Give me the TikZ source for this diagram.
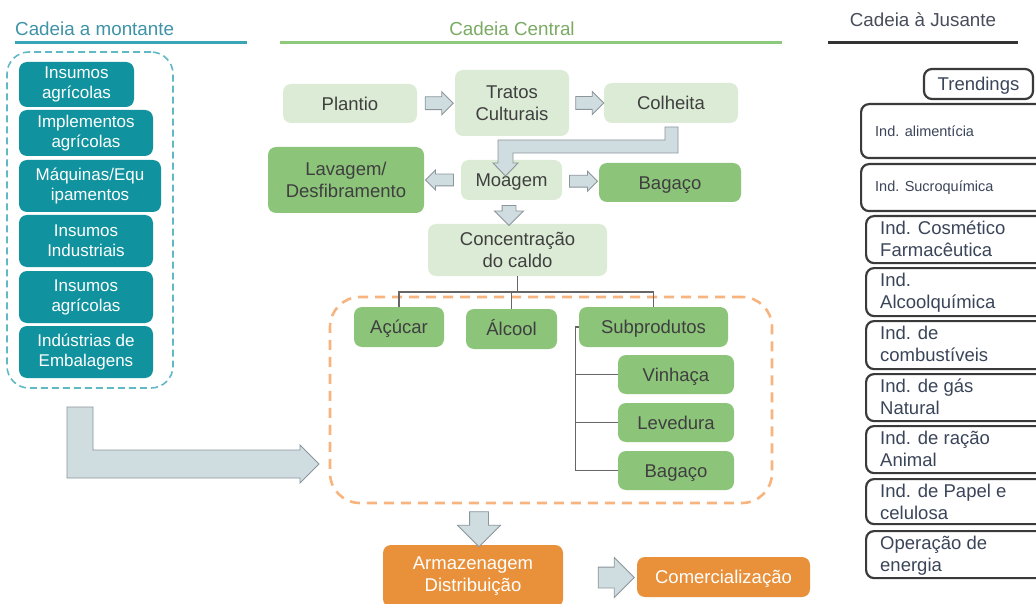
\documentclass[tikz,border=0pt]{standalone}
\usepackage{fontspec}
\setmainfont{Liberation Sans}
\usetikzlibrary{shapes.arrows,calc}
\definecolor{lgreen}{HTML}{DCEBD5}
\definecolor{mgreen}{HTML}{8CC47A}
\definecolor{tealbox}{HTML}{11939F}
\definecolor{tealline}{HTML}{3AA5B4}
\definecolor{tealdash}{HTML}{62B9C6}
\definecolor{tealtxt}{HTML}{3E93A6}
\definecolor{greenline}{HTML}{8DC97B}
\definecolor{greentxt}{HTML}{7BAA63}
\definecolor{hdark}{HTML}{4A4D5A}
\definecolor{orangebox}{HTML}{E8913A}
\definecolor{orangedash}{HTML}{F8B47E}
\definecolor{afill}{HTML}{CFDDE1}
\definecolor{aline}{HTML}{8C969A}
\definecolor{txt}{HTML}{3F3F3F}
\definecolor{rtxt}{HTML}{3B4559}
\definecolor{rline}{HTML}{3A3A3A}
\definecolor{tree}{HTML}{666666}
\newcommand{\fC}{\fontsize{18.5}{21.5}\selectfont}
\newcommand{\fL}{\fontsize{17}{20}\selectfont}
\newcommand{\fS}{\fontsize{14.5}{17}\selectfont}
\newcommand{\fH}{\fontsize{18.8}{21}\selectfont}
\begin{document}
\begin{tikzpicture}[x=1pt,y=-1pt,
  bx/.style={rounded corners=8pt, inner sep=0pt},
  ml/.style={align=center},
  one/.style={text height=13.3pt, text depth=0pt},
  lg/.style={bx, fill=lgreen, text=txt, font=\fC},
  mg/.style={bx, fill=mgreen, text=txt, font=\fC},
  tl/.style={bx, fill=tealbox, text=white, font=\fL, align=center},
  og/.style={bx, fill=orangebox, text=white, font=\fC},
  rb/.style={draw=rline, line width=2.2pt, rounded corners=8pt, fill=white, inner sep=0pt, anchor=north west},
  rt/.style={text=rtxt, font=\fC, align=left, inner sep=0pt, anchor=north west},
  rs/.style={text=rtxt, font=\fS, inner sep=0pt, anchor=west, text height=10.4pt, text depth=0pt},
  barrow/.style={single arrow, draw=aline, fill=afill, line width=0.9pt, inner xsep=0pt, inner ysep=6pt,
     single arrow head extend=5pt, minimum height=28pt},
  bent/.style={draw=aline, fill=afill, line width=0.9pt, line join=miter},
  treeline/.style={draw=tree, line width=1.2pt},
  hdr/.style={font=\fH, inner sep=0pt},
]
\useasboundingbox (0,0) rectangle (1036,604);
\fill[white] (0,0) rectangle (1036,604);
\clip (0,0) rectangle (1036,604);

% headers
\node[hdr, text=tealtxt, anchor=west] (h1) at (15,29) {Cadeia a montante};
\draw[tealline, line width=3pt] (15,43) -- (247,43);
\node[hdr, text=greentxt] (h2) at (512,29) {Cadeia Central};
\draw[greenline, line width=3pt] (280,43) -- (782,43);
\node[hdr, text=hdark] (h3) at (923,20) {Cadeia à Jusante};
\draw[black!80, line width=3pt] (828,43) -- (1018,43);

% upstream
\node[draw=tealdash, dash pattern=on 7pt off 4pt, line width=1.6pt, rounded corners=22pt,
      minimum width=166pt, minimum height=336pt, inner sep=0pt] (upframe) at (90,220) {};
\node[tl, minimum width=115pt, minimum height=45pt] (t1) at (76.5,84.5) {Insumos\\agrícolas};
\node[tl, minimum width=134pt, minimum height=46pt] (t2) at (86,133) {Implementos\\agrícolas};
\node[tl, minimum width=142pt, minimum height=52pt] (t3) at (90,186) {Máquinas/Equ\\ipamentos};
\node[tl, minimum width=134pt, minimum height=52pt] (t4) at (86,241) {Insumos\\Industriais};
\node[tl, minimum width=134pt, minimum height=52pt] (t5) at (86,297) {Insumos\\agrícolas};
\node[tl, minimum width=134pt, minimum height=52pt] (t6) at (86,352) {Indústrias de\\Embalagens};

% big bent arrow
\draw[bent] (67,407) -- (93,407) -- (93,450) -- (300,450) -- (300,445) -- (319,464)
  -- (300,483) -- (300,478) -- (67,478) -- cycle;

% central chain
\node[lg, one, minimum width=134pt, minimum height=39pt] (plantio) at (350,103.5) {Plantio};
\node[lg, ml, minimum width=114pt, minimum height=66pt] (tratos) at (512,103) {Tratos\\Culturais};
\node[lg, one, minimum width=134pt, minimum height=40pt] (colheita) at (671,103) {Colheita};
\node[mg, ml, minimum width=156pt, minimum height=66pt] (lavagem) at (346,180) {Lavagem/\\Desfibramento};
\node[lg, one, minimum width=101pt, minimum height=40pt] (moagem) at (511.5,180) {Moagem};
\node[mg, one, minimum width=142pt, minimum height=39pt] (bag1) at (670,182.5) {Bagaço};
\node[lg, ml, minimum width=179pt, minimum height=52pt] (conc) at (517.5,250) {Concentração\\do caldo};

\node[barrow] (a1) at ($(plantio.east)!0.5!(tratos.west)$) {};
\node[barrow] (a2) at ($(tratos.east)!0.5!(colheita.west)$) {};
\node[barrow, rotate=180, inner ysep=5.5pt, single arrow head extend=4pt] (a3)
  at ($(lavagem.east)!0.5!(moagem.west)$) {};
\node[barrow, inner ysep=5.5pt, single arrow head extend=4pt] (a4)
  at ($(moagem.east)!0.5!(bag1.west)$) {};
\node[barrow, rotate=-90, minimum height=20pt, inner ysep=6.5pt, single arrow head extend=7.5pt] (a5)
  at (509,212) {};

% bent arrow Colheita -> Moagem
\draw[bent] (665,127) -- (678,127) -- (678,153) -- (513,153) -- (513,163) -- (518,163)
  -- (505.5,176) -- (493,163) -- (498,163) -- (498,140) -- (665,140) -- cycle;

% products frame
\node[draw=orangedash, dash pattern=on 10pt off 7pt, line width=2.6pt, rounded corners=30pt,
      minimum width=442pt, minimum height=206pt, inner sep=0pt] (prod) at (551,400) {};
\node[mg, one, minimum width=90pt, minimum height=40pt] (acucar) at (399,327) {Açúcar};
\node[mg, one, minimum width=91pt, minimum height=40pt] (alcool) at (511.5,329) {Álcool};
\node[mg, one, minimum width=149pt, minimum height=40pt] (sub) at (653.5,327) {Subprodutos};
\node[mg, one, minimum width=116pt, minimum height=39pt] (vin) at (676,374.5) {Vinhaça};
\node[mg, one, minimum width=116pt, minimum height=39pt] (lev) at (676,422.5) {Levedura};
\node[mg, one, minimum width=116pt, minimum height=39pt] (bag2) at (676,470.5) {Bagaço};

\coordinate (bus) at (0,292);
\draw[treeline] (conc.south) -- (conc.south |- bus);
\draw[treeline] (acucar.north) -- (acucar.north |- bus) -- (sub.north |- bus) -- (sub.north);
\draw[treeline] (alcool.north) -- (alcool.north |- bus);
\coordinate (sb) at ($(sub.west)+(-3,0)$);
\draw[treeline] (sub.west) -- (sb) |- (bag2.west);
\draw[treeline] (sb) |- (vin.west);
\draw[treeline] (sb) |- (lev.west);

% distribution
\node[og, ml, minimum width=180pt, minimum height=62pt] (arm) at (473,576) {Armazenagem\\Distribuição};
\node[og, one, minimum width=173pt, minimum height=40pt] (com) at (723.5,577) {Comercialização};
\node[barrow, rotate=-90, minimum height=35pt, inner ysep=9pt, single arrow head extend=12pt] (a6)
  at (479,524.5) {};
\node[barrow, minimum height=36pt, inner ysep=10pt, single arrow head extend=9.5pt] (a7)
  at (611,577.5) {};

% downstream
\node[rb, anchor=center, minimum width=109pt, minimum height=30pt, font=\fC, text=rtxt, one] (trend) at (978.5,84) {Trendings};
\node[rb, minimum width=190pt, minimum height=54pt] (r1) at (860,103) {};
\node[rs] (r1t) at (875,131.5) {Ind. alimentícia};
\node[rb, minimum width=190pt, minimum height=47pt] (r2) at (860,163) {};
\node[rs] (r2t) at (875,186.5) {Ind. Sucroquímica};
\node[rb, minimum width=185pt, minimum height=47pt] (r3) at (865,215) {};
\node[rt] (r3t) at (880,221) {Ind. Cosmético\\Farmacêutica};
\node[rb, minimum width=185pt, minimum height=48pt] (r4) at (865,267) {};
\node[rt] (r4t) at (880,273) {Ind.\\Alcoolquímica};
\node[rb, minimum width=185pt, minimum height=48pt] (r5) at (865,320) {};
\node[rt] (r5t) at (880,326) {Ind. de\\combustíveis};
\node[rb, minimum width=185pt, minimum height=47pt] (r6) at (865,373) {};
\node[rt] (r6t) at (880,379) {Ind. de gás\\Natural};
\node[rb, minimum width=185pt, minimum height=47pt] (r7) at (865,425) {};
\node[rt] (r7t) at (880,431) {Ind. de ração\\Animal};
\node[rb, minimum width=185pt, minimum height=45pt] (r8) at (865,478) {};
\node[rt] (r8t) at (880,484) {Ind. de Papel e\\celulosa};
\node[rb, minimum width=185pt, minimum height=47pt] (r9) at (865,530) {};
\node[rt] (r9t) at (880,536) {Operação de\\energia};
\end{tikzpicture}
\end{document}
